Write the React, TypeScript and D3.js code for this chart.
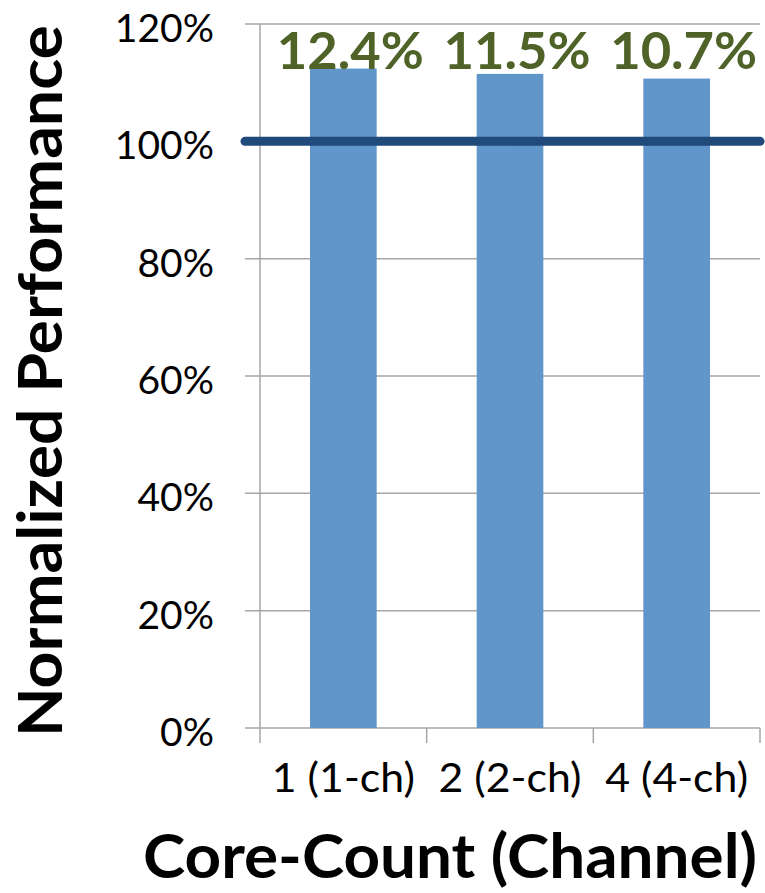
import React from "react";
import * as d3 from "d3";

const categories = ["1 (1-ch)", "2 (2-ch)", "4 (4-ch)"];
const values = [112.4, 111.5, 110.7];
const labels = ["12.4%", "11.5%", "10.7%"];
const yTicks = [0, 20, 40, 60, 80, 100, 120];
const baselineValue = 100;

const W = 765;
const H = 893;
const FONT = "Lato, 'Open Sans', sans-serif";

export default function App() {
  const left = 260;
  const right = 760;
  const top = 24;
  const bottom = 728;
  const x = d3.scaleBand<string>().domain(categories).range([left, right]).paddingInner(0.6).paddingOuter(0.3);
  const band = d3.scaleBand<string>().domain(categories).range([left, right]);
  const y = d3.scaleLinear().domain([0, 120]).range([bottom, top]);
  const grid = "#A6A6A6";

  return (
    <svg width={W} height={H} style={{ position: "absolute", left: 0, top: 0, background: "#fff" }}>
      {yTicks.map((t) => (
        <g key={t}>
          <line x1={245} x2={right} y1={y(t)} y2={y(t)} stroke={grid} strokeWidth={1.5} />
          <text x={214} y={y(t) + 18} textAnchor="end" fontFamily={FONT} fontSize={39} fill="#000">
            {t}%
          </text>
        </g>
      ))}
      <line x1={left} x2={left} y1={top} y2={bottom + 15} stroke={grid} strokeWidth={1.5} />
      {categories.map((c) => (
        <line key={c} x1={(band(c) as number) + band.bandwidth()} x2={(band(c) as number) + band.bandwidth()} y1={bottom} y2={bottom + 15} stroke={grid} strokeWidth={1.5} />
      ))}
      {categories.map((c, i) => (
        <rect key={c} x={x(c)} y={y(values[i])} width={x.bandwidth()} height={y(0) - y(values[i])} fill="#6096CA" />
      ))}
      <line x1={245} x2={right} y1={y(baselineValue)} y2={y(baselineValue)} stroke="#204A79" strokeWidth={9} strokeLinecap="round" />
      {categories.map((c, i) => (
        <text key={c} x={(x(c) as number) + x.bandwidth() / 2 + 7} y={69} textAnchor="middle" fontFamily={FONT} fontWeight="bold" fontSize={51} fill="#4F6228" textLength={147} lengthAdjust="spacingAndGlyphs">
          {labels[i]}
        </text>
      ))}
      {categories.map((c) => (
        <text key={c} x={(band(c) as number) + band.bandwidth() / 2} y={792} textAnchor="middle" fontFamily={FONT} fontSize={40} fill="#000" textLength={143} lengthAdjust="spacingAndGlyphs">
          {c}
        </text>
      ))}
      <text x={450} y={878} textAnchor="middle" fontFamily={FONT} fontWeight="bold" fontSize={61} fill="#000" textLength={614} lengthAdjust="spacingAndGlyphs">
        Core-Count (Channel)
      </text>
      <text transform={`translate(62, ${(737 + 25) / 2}) rotate(-90)`} textAnchor="middle" fontFamily={FONT} fontWeight="bold" fontSize={61} fill="#000" textLength={712} lengthAdjust="spacingAndGlyphs">
        Normalized Performance
      </text>
    </svg>
  );
}
